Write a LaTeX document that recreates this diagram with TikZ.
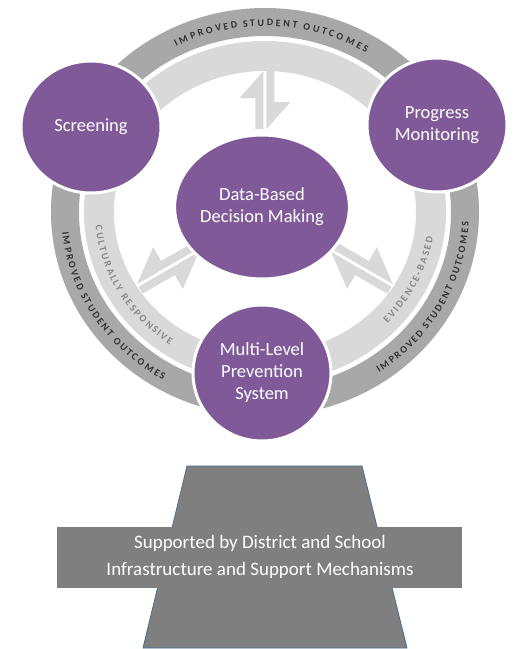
\documentclass[tikz,border=0pt]{standalone}
\usepackage{fontspec}
\setmainfont{Carlito}
\usetikzlibrary{shapes.geometric,decorations.text}

\definecolor{bubble}{RGB}{128,90,152}
\definecolor{darkband}{RGB}{168,168,168}
\definecolor{lightband}{RGB}{217,217,217}
\definecolor{bandtext}{RGB}{50,50,50}
\definecolor{softtext}{RGB}{135,135,135}
\definecolor{basegray}{RGB}{127,127,127}
\definecolor{baseedge}{RGB}{70,110,150}

\begin{document}
\begin{tikzpicture}[x=1pt, y=1pt,
    bubble/.style={ellipse, fill=bubble, draw=white, line width=3pt, text=white,
      align=center, inner sep=0pt, font=\fontsize{18.5}{22}\selectfont},
    bandlabel/.style 2 args={decorate, decoration={text effects along path,
      text={#1}, text effects/.cd, text along path, fit text to path,
      characters={inner sep=0pt, text=#2, font=\fontsize{10}{12}\selectfont\bfseries}}}]
    \useasboundingbox (-265,-437) rectangle (254,212);

    % outer and inner bands
    \fill[darkband, even odd rule] (0,0) ellipse [x radius=214, y radius=204]
        (0,0) ellipse [x radius=186, y radius=176];
    \fill[lightband, even odd rule] (0,0) ellipse [x radius=181, y radius=171]
        (0,0) ellipse [x radius=151, y radius=141];

    \path[bandlabel={IMPROVED STUDENT OUTCOMES}{bandtext}]
        (117:196 and 186) arc[start angle=117, end angle=59, x radius=196, y radius=186];
    \path[bandlabel={IMPROVED STUDENT OUTCOMES}{bandtext}]
        (186:204 and 194) arc[start angle=186, end angle=240, x radius=204, y radius=194];
    \path[bandlabel={IMPROVED STUDENT OUTCOMES}{bandtext}]
        (-56:204 and 194) arc[start angle=-56, end angle=-3, x radius=204, y radius=194];
    \path[bandlabel={CULTURALLY RESPONSIVE}{softtext}]
        (185:170 and 160) arc[start angle=185, end angle=236, x radius=170, y radius=160];
    \path[bandlabel={EVIDENCE-BASED}{softtext}]
        (-44:170 and 160) arc[start angle=-44, end angle=-9, x radius=170, y radius=160];

    % two-way arrows between the hub and the band
    \foreach \ang/\flip/\len in {90/1/1, 330/1/1.2, 210/-1/1.2}
        \fill[lightband, shift={(\ang:112)}, rotate=\ang-90, xscale=\flip, yscale=\len]
            (-9.5,-29) -- (-1.5,-29) -- (-1.5,29) -- (-25.5,2) -- (-9.5,2) -- cycle
            (9.5,29) -- (1.5,29) -- (1.5,-29) -- (25.5,-2) -- (9.5,-2) -- cycle;

    \node[bubble, minimum width=140, minimum height=132] (screening) at (-174,85) {Screening};
    \node[bubble, minimum width=140, minimum height=134] (progress) at (172,87) {Progress\\Monitoring};
    \node[bubble, minimum width=150, minimum height=144] (decision) at (-3,5) {Data-Based\\Decision Making};
    \node[bubble, minimum width=138, minimum height=136] (prevention) at (-3,-161) {Multi-Level\\Prevention\\System};

    % base
    \draw[fill=basegray, draw=baseedge, line width=0.8pt]
        (-78,-254) -- (97,-254) -- (142,-436) -- (-122,-436) -- cycle;
    \fill[basegray] (-208,-315) rectangle (197,-376);
    \node[text=white, align=center, font=\fontsize{19}{27}\selectfont] (support) at (-5,-345)
        {Supported by District and School\\Infrastructure and Support Mechanisms};
\end{tikzpicture}
\end{document}
